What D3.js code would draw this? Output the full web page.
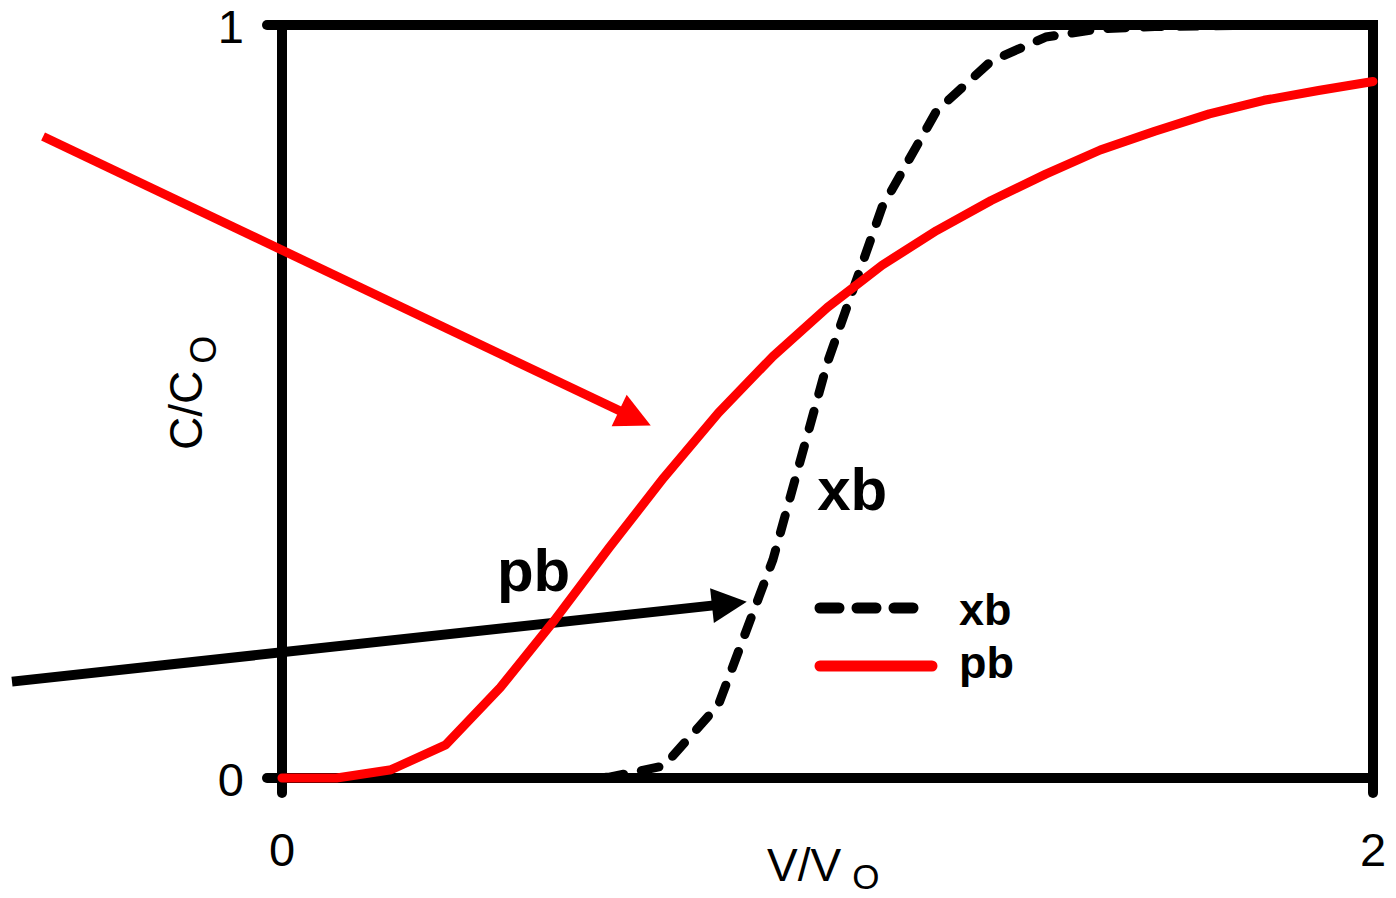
<!DOCTYPE html>
<html>
<head>
<meta charset="utf-8">
<script src="https://cdn.jsdelivr.net/npm/d3@7"></script>
<style>
  html, body { margin: 0; padding: 0; background: #fff; }
  svg { display: block; font-family: "Liberation Sans", Arial, sans-serif; }
</style>
</head>
<body>
<svg id="chart" width="1396" height="898"></svg>
<script>
// Breakthrough curves: relative concentration C/Co versus throughput V/Vo
const vRatio = [0, 0.1, 0.2, 0.3, 0.4, 0.5, 0.6, 0.7, 0.8, 0.9, 1.0,
                1.1, 1.2, 1.3, 1.4, 1.5, 1.6, 1.7, 1.8, 1.9, 2.0];
const xbValues = [0, 0, 0, 0, 0, 0, 0.001, 0.016, 0.097, 0.29, 0.552,
                  0.758, 0.886, 0.952, 0.984, 0.995, 0.998, 0.999, 1, 1, 1];
const pbValues = [0, 0, 0.011, 0.044, 0.12, 0.21, 0.306, 0.399, 0.485, 0.56, 0.625,
                  0.681, 0.727, 0.767, 0.802, 0.834, 0.859, 0.882, 0.9, 0.913, 0.925];
const xTickLabels = ["0", "2"];
const yTickLabels = ["0", "1"];
const seriesNames = ["xb", "pb"];

// Annotation arrows and labels, in data units
const arrowFrom = [[-0.438, 0.852], [-0.495, 0.128]];
const arrowTo   = [[0.676, 0.468], [0.852, 0.234]];
const arrowColors = ["#ff0000", "#000000"];
const curveLabels = ["xb", "pb"];
const curveLabelAt = [[0.981, 0.356], [0.394, 0.249]];

const svg = d3.select("#chart");
const plotLeft = 282, plotRight = 1373, plotTop = 25, plotBottom = 778;

const x = d3.scaleLinear().domain([0, 2]).range([plotLeft, plotRight]);
const y = d3.scaleLinear().domain([0, 1]).range([plotBottom, plotTop]);

// Frame with outward tick stubs
const frame = svg.append("g")
  .attr("stroke", "#000").attr("stroke-width", 10)
  .attr("stroke-linecap", "round").attr("fill", "none");
frame.append("rect")
  .attr("x", x(0)).attr("y", y(1))
  .attr("width", x(2) - x(0)).attr("height", y(0) - y(1));
[0, 1].forEach(v => {
  frame.append("line").attr("x1", x(0) - 15).attr("x2", x(0)).attr("y1", y(v)).attr("y2", y(v));
});
[0, 2].forEach(v => {
  frame.append("line").attr("x1", x(v)).attr("x2", x(v)).attr("y1", y(0)).attr("y2", y(0) + 15);
});

// Tick labels
svg.append("g").selectAll("text").data(yTickLabels).join("text")
  .attr("x", 244).attr("y", d => y(+d) + 18)
  .attr("text-anchor", "end").attr("font-size", 47).attr("fill", "#000")
  .text(d => d);
svg.append("g").selectAll("text").data(xTickLabels).join("text")
  .attr("x", d => x(+d)).attr("y", 866)
  .attr("text-anchor", "middle").attr("font-size", 47).attr("fill", "#000")
  .text(d => d);

// Axis titles
const xt = svg.append("text").attr("x", 767).attr("y", 881)
  .attr("font-size", 46).attr("fill", "#000");
xt.append("tspan").text("V/V");
xt.append("tspan").attr("dx", 11).attr("dy", 8).attr("font-size", 35).text("O");

const yt = svg.append("text").attr("transform", "translate(202,450) rotate(-90)")
  .attr("font-size", 46).attr("fill", "#000");
yt.append("tspan").text("C/C");
yt.append("tspan").attr("dx", 7).attr("dy", 14).attr("font-size", 36).text("O");

// Annotation arrows
const arrows = svg.append("g");
arrowFrom.forEach((p0, i) => {
  const x0 = x(p0[0]), y0 = y(p0[1]);
  const x1 = x(arrowTo[i][0]), y1 = y(arrowTo[i][1]);
  const len = Math.hypot(x1 - x0, y1 - y0);
  const ux = (x1 - x0) / len, uy = (y1 - y0) / len;
  const headLen = 35, headHalf = 17.5;
  const bx = x1 - ux * headLen, by = y1 - uy * headLen;
  arrows.append("line")
    .attr("x1", x0).attr("y1", y0).attr("x2", bx + ux * 2).attr("y2", by + uy * 2)
    .attr("stroke", arrowColors[i]).attr("stroke-width", i === 0 ? 9 : 10);
  arrows.append("polygon")
    .attr("points", [[x1, y1], [bx - uy * headHalf, by + ux * headHalf], [bx + uy * headHalf, by - ux * headHalf]]
      .map(p => p.join(",")).join(" "))
    .attr("fill", arrowColors[i]);
});

// Curves: dashed xb underneath, solid pb on top
const line = d3.line().x((d, i) => x(vRatio[i])).y(d => y(d));
svg.append("path").datum(xbValues)
  .attr("d", line).attr("fill", "none").attr("stroke", "#000")
  .attr("stroke-width", 9).attr("stroke-linejoin", "round").attr("stroke-linecap", "round")
  .attr("stroke-dasharray", "18,18");
svg.append("path").datum(pbValues)
  .attr("d", line).attr("fill", "none").attr("stroke", "#ff0000")
  .attr("stroke-width", 9).attr("stroke-linejoin", "round").attr("stroke-linecap", "round");

// Curve labels
svg.append("g").selectAll("text").data(curveLabels).join("text")
  .attr("x", (d, i) => x(curveLabelAt[i][0])).attr("y", (d, i) => y(curveLabelAt[i][1]))
  .attr("font-size", 60).attr("font-weight", "bold").attr("fill", "#000")
  .text(d => d);

// Legend
const legendRows = [608, 666];
const legendBaselines = [625, 678];
const legend = svg.append("g");
seriesNames.forEach((name, i) => {
  const ly = legendRows[i];
  legend.append("line")
    .attr("x1", 820).attr("x2", i === 0 ? 913 : 932).attr("y1", ly).attr("y2", ly)
    .attr("stroke", i === 0 ? "#000" : "#ff0000").attr("stroke-width", 11)
    .attr("stroke-linecap", "round")
    .attr("stroke-dasharray", i === 0 ? "19,18" : null);
  legend.append("text").attr("x", 959).attr("y", legendBaselines[i])
    .attr("font-size", 45).attr("font-weight", "bold").attr("fill", "#000")
    .text(name);
});
</script>
</body>
</html>
